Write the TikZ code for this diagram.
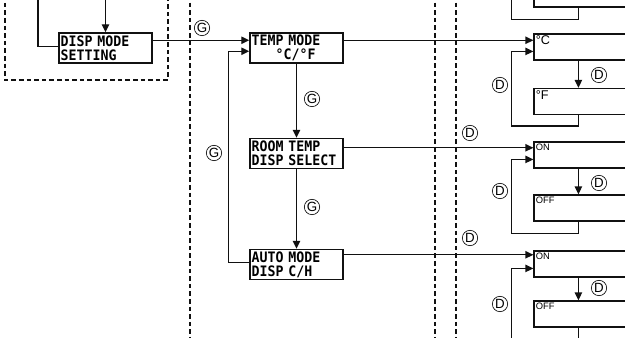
\documentclass[tikz,border=0pt]{standalone}
\usepackage{fontspec}
\setmainfont{Liberation Sans}
\newfontfamily\lcdfont{DejaVu Sans Mono}[FakeStretch=0.92]
\usetikzlibrary{arrows.meta,positioning,calc}
\definecolor{ink}{HTML}{111111}
\tikzset{
  lcdbox/.style={draw=ink,line width=1.1pt,minimum width=69.75pt,
                 minimum height=22.5pt,inner sep=1.3pt,text width=67.15pt,
                 align=left,font=\lcdfont\bfseries\fontsize{10.8}{10.4}\selectfont},
  setbox/.style={draw=ink,line width=0.9pt,minimum width=112.5pt,
                 minimum height=19.5pt,inner sep=0pt},
  setlabel/.style={anchor=north west,inner sep=1.6pt,
                   font=\fontsize{9.5}{9.5}\selectfont},
  smalllabel/.style={setlabel,font=\fontsize{7}{7}\selectfont},
  line/.style={draw=ink,line width=1.05pt},
  arr/.style={line,-{Triangle[length=6pt,width=5.5pt]}},
  divider/.style={draw=ink,line width=1.3pt,dash pattern=on 3.4pt off 2.3pt},
  marker/.style={circle,draw=ink,line width=0.5pt,minimum size=11.5pt,
                 inner sep=0pt,font=\fontsize{10}{10}\selectfont}
}
\begin{document}
\begin{tikzpicture}[x=0.75pt,y=-0.75pt]
  \path[use as bounding box] (0,0) rectangle (625,338);
  \clip (0,0) rectangle (625,338);

  % dashed dividers
  \draw[divider] (5,-20) rectangle (168,80);
  \foreach \x in {190,435,456}{
    \draw[divider] (\x,-5) -- (\x,345);
  }

  % mode setting column
  \node[lcdbox] (disp) at (105.5,48) {DISP MODE\\SETTING};
  \node[lcdbox] (temp) at (296.5,48) {TEMP MODE\\\hspace*{18pt}°C/°F};
  \node[lcdbox] (room) at (296.5,153.5) {ROOM TEMP\\DISP SELECT};
  \node[lcdbox] (auto) at (296.5,264.5) {AUTO MODE\\DISP C/H};

  \coordinate (intop) at (105.5,-10);
  \coordinate (backtop) at (38,-10);
  \draw[arr] (intop) -- (disp.north);
  \draw[line] (backtop) |- ($(disp.north west)+(0,14)$);

  \draw[arr] ($(disp.north east)+(0,8)$) coordinate (d1) -- (d1 -| temp.west);
  \draw[arr] (temp.south) -- (room.north);
  \draw[arr] (room.south) -- (auto.north);
  \draw[arr] ($(auto.north west)+(0,14)$) -- ++(-21,0)
    |- ($(temp.north west)+(0,19)$);

  % setting column
  \node[setbox] (prev) at (609,-6) {};
  \node[setbox,label={[setlabel]north west:°C}] (degc) at (609,47) {};
  \node[setbox,label={[setlabel]north west:°F}] (degf) at (609,101.5) {};
  \node[setbox,label={[smalllabel]north west:ON}] (on1) at (609,155) {};
  \node[setbox,label={[smalllabel]north west:OFF}] (off1) at (609,208) {};
  \node[setbox,label={[smalllabel]north west:ON}] (on2) at (609,264) {};
  \node[setbox,label={[smalllabel]north west:OFF}] (off2) at (609,314) {};

  \draw[arr] ($(temp.north east)+(0,8)$) coordinate (t1) -- (t1 -| degc.west);
  \draw[arr] ($(room.north east)+(0,10)$) coordinate (r1) -- (r1 -| on1.west);
  \draw[arr] ($(auto.north east)+(0,6)$) coordinate (a1) -- (a1 -| on2.west);

  \draw[line] ($(prev.south west)+(45,0)$) -- ++(0,12)
    -| ($(prev.north west)+(-22,-20)$);
  \foreach \a/\b/\drop in {degc/degf/11,on1/off1/12,on2/off2/20}{
    \draw[arr] ($(\a.south west)+(45,0)$) -- ($(\b.north west)+(45,0)$);
    \draw[arr] ($(\b.south west)+(45,0)$) -- ++(0,\drop)
      -| ($(\a.north west)+(-22,18)$) -- ($(\a.north west)+(0,18)$);
  }

  % button marks
  \node[marker] (gdisp) at (202,28) {G};
  \node[marker] (gback) at (214,153) {G};
  \node[marker] (gtemp) at (312,99) {G};
  \node[marker] (groom) at (312,207) {G};
  \node[marker] (dtemp) at (599,75) {D};
  \node[marker] (dtempb) at (500,85) {D};
  \node[marker] (droomin) at (470,133) {D};
  \node[marker] (droom) at (599,183) {D};
  \node[marker] (droomb) at (500,191) {D};
  \node[marker] (dautoin) at (470,238) {D};
  \node[marker] (dauto) at (599,288) {D};
  \node[marker] (dautob) at (500,304) {D};
\end{tikzpicture}
\end{document}
